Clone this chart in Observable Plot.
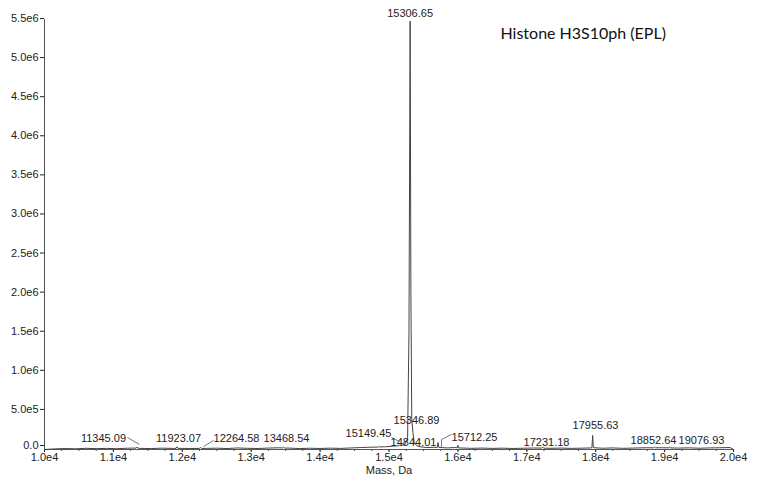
<!DOCTYPE html>
<html><head><meta charset="utf-8">
<script src="https://cdn.jsdelivr.net/npm/d3@7"></script>
<script src="https://cdn.jsdelivr.net/npm/@observablehq/plot@0.6"></script>
<style>body{margin:0;background:#fff}</style>
</head><body><div id="chart"></div>
<script>
// Spectrum trace (mass in Da, intensity in counts)
const masses = [10000,10150,10300,10450,10600,10750,10900,11050,11200,11300,11330,11345,11360,11400,11550,11700,11850,11910,11923,11936,11980,12100,12250,12264,12278,12350,12500,12650,12800,12950,13100,13250,13400,13455,13468,13481,13550,13700,13850,14000,14150,14300,14450,14600,14750,14830,14844,14858,14950,15050,15135,15149,15163,15230,15270,15290,15306.65,15318,15330,15346.89,15365,15400,15450,15550,15650,15700,15712,15724,15850,15950,15990,16000,16010,16200,16350,16500,16650,16800,16950,17100,17218,17231,17244,17350,17500,17650,17800,17930,17945,17955.63,17966,17990,18100,18250,18400,18550,18700,18840,18852,18864,18950,19064,19076,19088,19200,19350,19500,19650,19800,19950,20000];
const intensities = [0,8000,12000,9000,15000,11000,14000,10000,16000,18000,17000,32000,15000,14000,12000,17000,14000,15000,34000,15000,14000,13000,14000,28000,14000,14000,17000,12000,20000,15000,13000,18000,22000,20000,30000,18000,18000,12000,16000,13000,17000,14000,20000,25000,30000,30000,36000,33000,35000,42000,48000,55000,52000,60000,150000,1500000,5480000,2000000,400000,220000,90000,50000,35000,25000,28000,26000,90000,26000,20000,25000,22000,55000,20000,15000,18000,14000,17000,13000,16000,19000,18000,30000,17000,15000,18000,14000,17000,20000,22000,180000,24000,22000,16000,20000,15000,18000,22000,22000,30000,22000,22000,21000,30000,20000,18000,21000,16000,20000,22000,25000,0];

// Peak annotations
const peakLabels = ["15306.65","15346.89","11345.09","11923.07","12264.58","13468.54","15149.45","14844.01","15712.25","17231.18","17955.63","18852.64","19076.93"];
const labelMass = [15306,15399,10856,11945,12787,13512,14702,15356,16241,17286,17997,18839,19536];
const labelIntensity = [5580000,371000,141000,141000,141000,141000,205000,90000,153000,90000,307000,115000,115000];

// Leader lines from labels to peaks
const leaderX1 = [11205,12453,15036,15907,15762];
const leaderY1 = [153000,115000,153000,192000,128000];
const leaderX2 = [11379,12308,15152,15762,15762];
const leaderY2 = [64000,38000,102000,128000,26000];

// Axis ticks
const xTicks = [10000,11000,12000,13000,14000,15000,16000,17000,18000,19000,20000];
const xTickLabels = ["1.0e4","1.1e4","1.2e4","1.3e4","1.4e4","1.5e4","1.6e4","1.7e4","1.8e4","1.9e4","2.0e4"];
const xMinorTicks = d3.range(10000, 20001, 250);
const yTicks = [0,500000,1000000,1500000,2000000,2500000,3000000,3500000,4000000,4500000,5000000,5500000];
const yTickLabels = ["0.0","5.0e5","1.0e6","1.5e6","2.0e6","2.5e6","3.0e6","3.5e6","4.0e6","4.5e6","5.0e6","5.5e6"];

const title = "Histone H3S10ph (EPL)";
const xLabel = "Mass, Da";

const trace = masses.map((m, i) => ({m, v: intensities[i]}));
const anns = peakLabels.map((t, i) => ({t, x: labelMass[i], y: labelIntensity[i]}));
const leaders = leaderX1.map((x1, i) => ({x1, y1: leaderY1[i], x2: leaderX2[i], y2: leaderY2[i]}));

const chart = Plot.plot({
  width: 766, height: 484,
  marginLeft: 44, marginRight: 33, marginTop: 19, marginBottom: 35,
  style: {fontFamily: "'Liberation Sans', Arial, sans-serif", fontSize: "11px", color: "#222", background: "#fff"},
  x: {domain: [10000, 20000]},
  y: {domain: [0, 5500000]},
  marks: [
    Plot.axisX(xMinorTicks, {tickSize: 2, tickFormat: () => "", stroke: "#555"}),
    Plot.axisX(xTicks, {tickSize: 3, tickPadding: 1, tickFormat: (d, i) => xTickLabels[i], label: null, fill: "#222"}),
    Plot.axisY(yTicks.slice(1), {tickSize: 4, tickPadding: 2, dy: -1, tickFormat: (d, i) => yTickLabels[i + 1], label: null, fill: "#222"}),
    Plot.axisY(yTicks.slice(0, 1), {tickSize: 4, tickPadding: 2, dy: -4, tickFormat: (d, i) => yTickLabels[i], label: null, fill: "#222"}),
    Plot.ruleX([10000], {stroke: "#555"}),
    Plot.ruleY([0], {stroke: "#555"}),
    Plot.line(trace, {x: "m", y: "v", stroke: "#444", strokeWidth: 1}),
    Plot.link(leaders, {x1: "x1", y1: "y1", x2: "x2", y2: "y2", stroke: "#555", strokeWidth: 0.8}),
    Plot.text(anns, {x: "x", y: "y", text: "t", fill: "#222", fontSize: 11, clip: false}),
    Plot.text([xLabel], {frameAnchor: "bottom", dy: 21, lineAnchor: "middle", text: d => d, fill: "#222", fontSize: 11}),
    Plot.text([title], {frameAnchor: "top-left", dx: 456, dy: 14, lineAnchor: "middle", textAnchor: "start", text: d => d, fill: "#111", fontSize: 16, fontFamily: "Lato, 'Open Sans', sans-serif"})
  ]
});
document.getElementById("chart").appendChild(chart);
</script>
</body></html>
